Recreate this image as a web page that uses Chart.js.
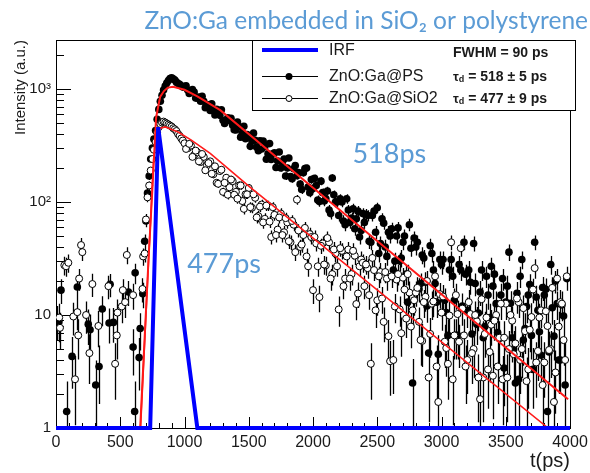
<!DOCTYPE html>
<html>
<head>
<meta charset="utf-8">
<script src="https://cdn.jsdelivr.net/npm/chart.js@4.4.1/dist/chart.umd.min.js"></script>
<style>
    html, body { margin: 0; padding: 0; background: #fff; }
</style>
</head>
<body>
<canvas id="decayChart" width="590" height="473"></canvas>
<script>
// IRF (instrument response), straight segments on the log scale
const irfTime = [0, 733, 795, 1100, 4000];
const irfCounts = [1, 1, 460, 1, 1];

// fitted decay curves (red)
const psFitTime = [655, 720, 750, 779, 810, 840, 870, 912, 1000, 1100, 1278, 2000, 3985];
const psFitCounts = [1, 31, 130, 560, 850, 960, 1030, 1045, 985, 860, 650, 134, 1.8];
const sioFitTime = [658, 720, 760, 785, 810, 850, 950, 1050, 1200, 1512, 3830];
const sioFitCounts = [1, 30, 240, 400, 450, 462, 417, 355, 269, 135, 1];

// background before the pulse (empty bins are not drawn)
const psBgTime = [10, 23, 39, 83, 125, 166, 251, 265, 309, 335, 360, 413, 421, 447, 564, 600, 612, 616, 647, 655, 675];
const psBgCounts = [9, 8.7, 16.6, 1.4, 4.3, 17.7, 8.3, 7.4, 2.4, 3.5, 11.3, 8.5, 18.7, 8.6, 16, 5.2, 1.4, 23.6, 4.2, 7.6, 15.4];
const sioBgTime = [25, 31, 65, 78, 96, 135, 148, 166, 173, 180, 195, 205, 234, 260, 283, 330, 408, 460, 473, 478, 512, 520, 538, 551, 600, 673, 678];
const sioBgCounts = [9.5, 7.7, 27.6, 27, 29, 9.7, 2.7, 10.6, 6.6, 21, 41.6, 36, 10, 4.6, 18.8, 8, 18, 3.7, 6.6, 10.5, 11.9, 16.6, 13, 34, 15, 17, 33];

// pulse and decay, time bins (ps)
const decayTime = [
    690, 700, 712, 725, 737, 750, 762, 775, 787, 800, 812, 825, 837, 850, 862, 875, 887, 900, 912, 925, 937, 950, 962, 975, 987,
    1000, 1025, 1050, 1075, 1100, 1125, 1150, 1175,
    1200, 1225, 1250, 1275, 1300, 1325, 1350, 1375,
    1400, 1425, 1450, 1475, 1500, 1525, 1550, 1575,
    1600, 1625, 1650, 1675, 1700, 1725, 1750, 1775,
    1800, 1825, 1850, 1875, 1900, 1925, 1950, 1975,
    2000, 2025, 2050, 2075, 2100, 2125, 2150, 2175,
    2200, 2225, 2250, 2275, 2300, 2325, 2350, 2375,
    2400, 2425, 2450, 2475, 2500, 2525, 2550, 2575,
    2600, 2625, 2650, 2675, 2700, 2725, 2750, 2775,
    2800, 2825, 2850, 2875, 2900, 2925, 2950, 2975,
    3000, 3025, 3050, 3075, 3100, 3125, 3150, 3175,
    3200, 3225, 3250, 3275, 3300, 3325, 3350, 3375,
    3400, 3425, 3450, 3475, 3500, 3525, 3550, 3575,
    3600, 3625, 3650, 3675, 3700, 3725, 3750, 3775,
    3800, 3825, 3850, 3875, 3900, 3925, 3950, 3975
];
const psCounts = [
    45, 68, 120, 170, 240, 300, 360, 430, 540, 660, 780, 880, 980, 1060, 1130, 1190, 1240, 1260, 1230, 1200, 1150, 1120, 1100, 1070, 1040,
    1050, 980, 950, 940, 830, 780, 780, 710,
    645, 645, 660, 585, 530, 530, 525, 478,
    435, 463, 407, 363, 385, 347, 352, 284,
    295, 309, 267, 238, 272, 231, 200, 240,
    200, 168, 197, 171, 144, 182, 200, 121,
    132, 140, 101, 121, 107, 85, 163, 100,
    76, 100, 63, 85, 72, 58, 83, 56,
    66, 76, 44, 83, 89, 43, 65, 33,
    50, 25, 50, 30, 44, 23, 63, 2.5,
    40, 17, 34, 19.5, 4.6, 35, 19, 4.5,
    28, 13.5, 6.6, 31, 13.5, 6.6, 25, 44,
    11, 19.5, 43, 8.3, 16, 6.3, 22, 9.5,
    18, 12.6, 6.2, 21, 13, 36, 6.3, 2.5,
    2.7, 31, 7.6, 15, 6.6, 44, 11, 4.4,
    15, 1.4, 28, 6.5, 12.6, 4, 9.8, 21
];
const sioCounts = [
    35, 70, 110, 140, 190, 240, 290, 340, 410, 460, 490, 505, 515, 505, 495, 485, 475, 465, 450, 440, 425, 400, 385, 365, 350,
    331, 299, 316, 260, 275, 226, 251, 211,
    229, 176, 148, 188, 123, 164, 135, 153,
    123, 140, 102, 117, 133, 89, 109, 75,
    95, 71, 93, 49, 77, 57, 79, 54,
    66, 44, 63, 105, 40, 51, 33, 52,
    16.6, 43, 14.4, 43, 27.5, 44, 23, 35,
    11.2, 37, 21, 38, 23, 33.5, 15.5, 31,
    18, 26, 3.7, 25, 13.5, 24, 8.7, 21,
    3.9, 4, 20.6, 11.2, 21.4, 9.3, 15.8, 11,
    15.8, 8.7, 5.9, 14.5, 2.8, 12.6, 22, 1.7,
    10.5, 5.8, 3.7, 44, 6.6, 10.2, 39, 6.6,
    4, 10.2, 5, 8.8, 1.8, 2.8, 9.5, 4.7,
    2.9, 10, 6.3, 2.7, 12.6, 5, 8.9, 5.6,
    13, 5, 7.2, 3.3, 9.6, 26, 4.8, 11,
    3.8, 8, 5, 1.7, 21, 13, 6, 22
];

// the in-between bins of the decay
const decayTimeB = [
    1012, 1037, 1062, 1087, 1112, 1137, 1162, 1187,
    1212, 1237, 1262, 1287, 1312, 1337, 1362, 1387,
    1412, 1437, 1462, 1487, 1512, 1537, 1562, 1587,
    1612, 1637, 1662, 1687, 1712, 1737, 1762, 1787,
    1812, 1837, 1862, 1887, 1912, 1937, 1962, 1987,
    2012, 2037, 2062, 2087, 2112, 2137, 2162, 2187,
    2212, 2237, 2262, 2287, 2312, 2337, 2362, 2387,
    2412, 2437, 2462, 2487, 2512, 2537, 2562, 2587,
    2612, 2637, 2662, 2687, 2712, 2737, 2762, 2787,
    2812, 2837, 2862, 2887, 2912, 2937, 2962, 2987,
    3012, 3037, 3062, 3087, 3112, 3137, 3162, 3187,
    3212, 3237, 3262, 3287, 3312, 3337, 3362, 3387,
    3412, 3437, 3462, 3487, 3512, 3537, 3562, 3587,
    3612, 3637, 3662, 3687, 3712, 3737, 3762, 3787,
    3812, 3837, 3862, 3887, 3912, 3937, 3962
];
const psCountsB = [
    1070, 912, 990, 832, 851, 861, 684, 724,
    741, 589, 631, 656, 495, 555, 550, 437,
    511, 375, 468, 395, 311, 407, 306, 348,
    347, 239, 329, 267, 202, 277, 224, 170,
    245, 161, 210, 182, 129, 198, 136, 158,
    162, 104, 153, 102, 125, 79, 116, 100,
    107, 68, 107, 66, 87, 71, 49, 79,
    78, 45, 76, 54, 35, 71, 40, 54,
    58, 30, 59, 32, 50, 13, 39, 48,
    44, 19, 32, 12, 41, 25, 13, 31,
    31, 10.5, 25, 22, 6.6, 28, 12, 23,
    25, 6.8, 19, 10.4, 25, 7.9, 15, 27,
    23, 7, 15, 3.4, 18, 12.7, 5, 15.6,
    22, 6, 11.9, 18.6, 3.3, 14.4, 7.1, 17.5,
    16.9, 4.7, 11.6, 20, 4, 12.3, 2.4
];
const sioCountsB = [
    295, 327, 251, 285, 229, 266, 191, 221,
    178, 207, 145, 193, 148, 116, 158, 116,
    107, 140, 87, 117, 90, 117, 73, 91,
    66, 93, 67, 90, 51, 73, 51, 72,
    45, 68, 36, 56, 42, 59, 27, 49,
    49, 27, 41, 28, 48, 21, 38, 27,
    39, 18, 33, 21, 37, 12.5, 27, 29,
    28, 15, 32, 11, 22, 14, 24, 6.5,
    22, 11.9, 23, 6.9, 16.8, 23, 7.9, 13.5,
    17.4, 6, 13, 20, 6.8, 13.2, 3.5, 15.3,
    14.6, 5.1, 9.9, 2.7, 15, 5.8, 11.4, 3.5,
    13, 4.6, 10, 2.8, 13.8, 6.8, 3.3, 8.2,
    8.9, 3.5, 12.6, 6.3, 2.8, 10, 4.5, 14,
    4, 11.5, 2.6, 7.4, 16.8, 3.8, 9.5, 2.4,
    10.8, 4.9, 17.4, 3.1, 7.9, 12.6, 4
];

// axis ticks
const yMajor = [1, 10, 100, 1000];
const yLabels = ['1', '10', '10²', '10³'];
const yMinor = [2, 3, 4, 5, 6, 7, 8, 9, 20, 30, 40, 50, 60, 70, 80, 90, 200, 300, 400, 500, 600, 700, 800, 900, 2000];

const legendLabels = ['IRF', 'ZnO:Ga@PS', 'ZnO:Ga@SiO2'];
const fwhmNote = 'FWHM = 90 ps';
const tauNotes = ['518 ± 5 ps', '477 ± 9 ps'];

const blue = '#0000ff';
const red = '#ff1a1a';
const noteBlue = '#5b9bd5';
const ink = '#1a1a1a';

function points(ts, vs) {
    return ts.map(function (t, i) { return { x: t, y: vs[i] }; });
}

const psTime = psBgTime.concat(decayTime, decayTimeB);
const psAll = psBgCounts.concat(psCounts, psCountsB);
const sioTime = sioBgTime.concat(decayTime, decayTimeB);
const sioAll = sioBgCounts.concat(sioCounts, sioCountsB);

// frame, inward ticks (ROOT style) and error bars
const frameTicks = {
    id: 'frameTicks',
    beforeDatasetsDraw(chart) {
        const { ctx, chartArea: a, scales: { x, y } } = chart;
        ctx.save();
        ctx.strokeStyle = '#000';
        ctx.lineWidth = 1;
        ctx.strokeRect(a.left + 0.5, a.top + 0.5, a.width, a.height);
        ctx.beginPath();
        for (let t = 0; t <= 4000; t += 100) {
            const px = Math.round(x.getPixelForValue(t)) + 0.5;
            const len = t % 500 === 0 ? 11 : 5;
            ctx.moveTo(px, a.bottom);
            ctx.lineTo(px, a.bottom - len);
        }
        yMajor.forEach(function (v) {
            const py = Math.round(y.getPixelForValue(v)) + 0.5;
            ctx.moveTo(a.left, py);
            ctx.lineTo(a.left + 15, py);
        });
        yMinor.forEach(function (v) {
            const py = Math.round(y.getPixelForValue(v)) + 0.5;
            ctx.moveTo(a.left, py);
            ctx.lineTo(a.left + 8, py);
        });
        ctx.stroke();

        // poisson error bars
        ctx.beginPath();
        ctx.rect(a.left, a.top, a.width, a.height);
        ctx.clip();
        ctx.lineWidth = 1.3;
        ctx.beginPath();
        [[psTime, psAll], [sioTime, sioAll]].forEach(function (set) {
            set[0].forEach(function (t, i) {
                const v = set[1][i];
                const err = Math.sqrt(v);
                const px = Math.round(x.getPixelForValue(t)) + 0.5;
                const lo = v - err > 1 ? y.getPixelForValue(v - err) : a.bottom;
                ctx.moveTo(px, lo);
                ctx.lineTo(px, y.getPixelForValue(v + err));
            });
        });
        ctx.stroke();
        ctx.restore();
    }
};

const notes = {
    id: 'notes',
    afterDatasetsDraw(chart) {
        const { ctx, scales: { x, y } } = chart;
        ctx.save();
        ctx.fillStyle = noteBlue;
        ctx.font = '27px Lato';
        ctx.textBaseline = 'alphabetic';
        ctx.fillText('518ps', x.getPixelForValue(2307), y.getPixelForValue(221));
        ctx.fillText('477ps', x.getPixelForValue(1021), y.getPixelForValue(23.6));
        ctx.restore();
    }
};

const legendPanel = {
    id: 'legendPanel',
    afterDraw(chart) {
        const { ctx, chartArea: a } = chart;
        const left = a.right - 318;
        const top = a.top;
        const rows = [top + 10, top + 36, top + 58];
        ctx.save();
        ctx.fillStyle = '#fff';
        ctx.fillRect(left, top, 323, 70);
        ctx.strokeStyle = '#000';
        ctx.lineWidth = 1;
        ctx.strokeRect(left + 0.5, top + 0.5, 323, 70);

        ctx.strokeStyle = blue;
        ctx.lineWidth = 4;
        ctx.beginPath();
        ctx.moveTo(left + 10, rows[0]);
        ctx.lineTo(left + 66, rows[0]);
        ctx.stroke();

        ctx.strokeStyle = '#000';
        ctx.lineWidth = 1;
        [rows[1], rows[2]].forEach(function (ry) {
            ctx.beginPath();
            ctx.moveTo(left + 10, ry + 0.5);
            ctx.lineTo(left + 66, ry + 0.5);
            ctx.stroke();
        });
        ctx.fillStyle = '#000';
        ctx.beginPath();
        ctx.arc(left + 37, rows[1] + 0.5, 3.5, 0, Math.PI * 2);
        ctx.fill();
        ctx.fillStyle = '#fff';
        ctx.beginPath();
        ctx.arc(left + 37, rows[2] + 0.5, 3, 0, Math.PI * 2);
        ctx.fill();
        ctx.stroke();

        ctx.fillStyle = ink;
        ctx.textBaseline = 'middle';
        ctx.font = '16px "Liberation Sans"';
        legendLabels.forEach(function (txt, i) {
            ctx.fillText(txt, left + 77, rows[i] + 1);
        });

        const cx = left + 201;
        ctx.font = 'bold 14px "Liberation Sans"';
        ctx.fillText(fwhmNote, cx, rows[0] + 3);
        tauNotes.forEach(function (txt, i) {
            const ry = rows[i + 1] + 1;
            ctx.font = 'bold 13px "Liberation Sans"';
            ctx.fillText('τ', cx, ry);
            let w = ctx.measureText('τ').width;
            ctx.font = 'bold 9px "Liberation Sans"';
            ctx.fillText('d', cx + w, ry + 3);
            w += ctx.measureText('d').width;
            ctx.font = 'bold 14px "Liberation Sans"';
            ctx.fillText(' = ' + txt, cx + w, ry);
        });
        ctx.restore();
    }
};

const ctx = document.getElementById('decayChart').getContext('2d');

new Chart(ctx, {
    type: 'scatter',
    data: {
        datasets: [{
            label: 'IRF',
            data: points(irfTime, irfCounts),
            showLine: true,
            borderColor: blue,
            borderWidth: 4,
            pointRadius: 0,
            clip: false
        }, {
            label: 'fit PS',
            data: points(psFitTime, psFitCounts),
            showLine: true,
            borderColor: red,
            borderWidth: 2,
            pointRadius: 0
        }, {
            label: 'fit SiO2',
            data: points(sioFitTime, sioFitCounts),
            showLine: true,
            borderColor: red,
            borderWidth: 1.6,
            pointRadius: 0
        }, {
            label: 'ZnO:Ga@SiO2',
            data: points(sioTime, sioAll),
            pointRadius: 3.5,
            pointBackgroundColor: '#fff',
            pointBorderColor: '#000',
            pointBorderWidth: 1
        }, {
            label: 'ZnO:Ga@PS',
            data: points(psTime, psAll),
            pointRadius: 3.8,
            pointBackgroundColor: '#000',
            pointBorderColor: '#000',
            pointBorderWidth: 0
        }]
    },
    options: {
        responsive: false,
        animation: false,
        devicePixelRatio: 1,
        layout: { padding: { left: 0, right: 2, top: 0, bottom: 0 } },
        plugins: {
            legend: { display: false },
            tooltip: { enabled: false },
            title: {
                display: true,
                text: 'ZnO:Ga embedded in SiO₂ or polystyrene',
                align: 'end',
                color: noteBlue,
                font: { family: 'Lato', size: 24.5, weight: 'normal', lineHeight: 1.2 },
                padding: { top: 6, bottom: 4.6 }
            }
        },
        scales: {
            x: {
                type: 'linear',
                min: 0,
                max: 4000,
                grid: { display: false, drawTicks: false },
                border: { display: false },
                ticks: {
                    stepSize: 500,
                    autoSkip: false,
                    maxRotation: 0,
                    padding: 5,
                    color: ink,
                    font: { family: 'Liberation Sans', size: 16 },
                    callback: function (v) { return String(v); }
                },
                title: {
                    display: true,
                    text: 't(ps)',
                    align: 'end',
                    color: ink,
                    font: { family: 'Liberation Sans', size: 20 },
                    padding: 0
                },
                afterFit: function (s) {
                    s.height = 45;
                    s.paddingRight = 20;
                }
            },
            y: {
                type: 'logarithmic',
                min: 1,
                max: 2716,
                grid: { display: false, drawTicks: false },
                border: { display: false },
                afterBuildTicks: function (s) {
                    s.ticks = yMajor.map(function (v) { return { value: v }; });
                },
                ticks: {
                    autoSkip: false,
                    padding: 5,
                    color: ink,
                    font: { family: 'Liberation Sans', size: 15 },
                    callback: function (v) { return yLabels[yMajor.indexOf(v)]; }
                },
                title: {
                    display: true,
                    text: 'Intensity (a.u.)',
                    align: 'end',
                    color: ink,
                    font: { family: 'Liberation Sans', size: 15 },
                    padding: { top: 12, bottom: 0 }
                },
                afterFit: function (s) {
                    s.width = 56;
                    s.paddingTop = 0;
                    s.paddingBottom = 0;
                }
            }
        }
    },
    plugins: [frameTicks, notes, legendPanel]
});
</script>
</body>
</html>
